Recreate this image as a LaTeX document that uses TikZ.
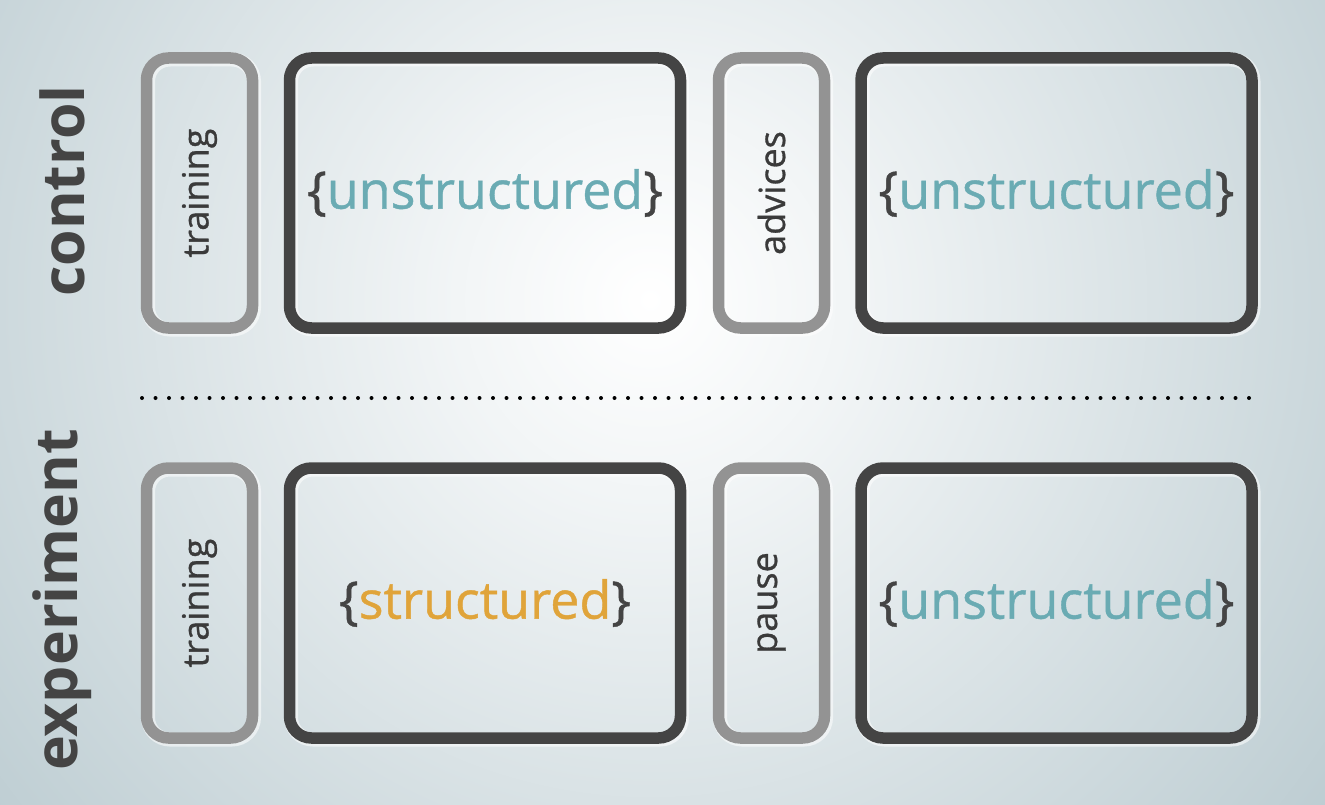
\documentclass[tikz,border=0pt]{standalone}
\usepackage{fontspec}
\setmainfont{Open Sans}
\newfontfamily\heavyish[FakeBold=0.8]{Open Sans}
\usetikzlibrary{shadings}
\definecolor{bgout}{HTML}{B4C6CC}
\definecolor{darkstroke}{HTML}{444444}
\definecolor{graystroke}{HTML}{939393}
\definecolor{teal}{HTML}{6AABB3}
\definecolor{amber}{HTML}{E0A43A}
\definecolor{txt}{HTML}{3A3A3A}
\pgfdeclareradialshading{bgshade}{\pgfpoint{0bp}{0bp}}{color(0bp)=(white); color(5bp)=(white!82!bgout); color(24bp)=(bgout); color(50bp)=(bgout!88!black)}
\tikzset{
  box/.style={rounded corners=22pt, line width=11.5pt, inner sep=0pt},
  bigbox/.style={box, draw=darkstroke, minimum width=391pt, minimum height=270pt},
  smallbox/.style={box, draw=graystroke, minimum width=106pt, minimum height=270pt},
  sidelabel/.style={font=\heavyish\fontsize{36}{40}\selectfont, text=txt, rotate=90},
  rowlabel/.style={font=\bfseries\fontsize{59}{64}\selectfont, text=darkstroke, rotate=90},
  cond/.style={font=\heavyish\fontsize{52}{58}\selectfont, text=darkstroke},
}
\begin{document}
\begin{tikzpicture}[x=1pt,y=-1pt]
\useasboundingbox (0,0) rectangle (1325,805);
\begin{scope}
\clip (0,0) rectangle (1325,805);
\shade[shading=bgshade] (650,300) circle (1000);
\end{scope}
% glow highlights
\foreach \cx/\cy/\w in {199.5/193/106, 485/193/391, 771.5/193/106, 1056.5/193/391, 199.5/603/106, 485/603/391, 771.5/603/106, 1056.5/603/391}{
  \draw[white, line width=14pt, opacity=0.55, rounded corners=22pt] (\cx-\w/2+1.5,\cy-135+1.5) rectangle (\cx+\w/2+1.5,\cy+135+1.5);
}
% row labels
\node[rowlabel] (lctrl) at (62,191) {control};
\node[rowlabel] (lexp) at (62,600) {experiment};
% control row
\node[smallbox] (ct) at (199.5,193) {};
\node[sidelabel] at (ct.center) {training};
\node[bigbox] (cu1) at (485,193) {};
\node[cond] at (cu1.center) {\{\textcolor{teal}{unstructured}\}};
\node[smallbox] (ca) at (771.5,193) {};
\node[sidelabel] at (ca.center) {advices};
\node[bigbox] (cu2) at (1056.5,193) {};
\node[cond] at (cu2.center) {\{\textcolor{teal}{unstructured}\}};
% separator
\coordinate (sepL) at (142,398);
\coordinate (sepR) at (1256,398);
\draw[line width=4pt, line cap=round, dash pattern=on 0pt off 13.5pt, black] (sepL) -- (sepR);
% experiment row
\node[smallbox] (et) at (199.5,603) {};
\node[sidelabel] at (et.center) {training};
\node[bigbox] (es) at (485,603) {};
\node[cond] at (es.center) {\{\textcolor{amber}{structured}\}};
\node[smallbox] (ep) at (771.5,603) {};
\node[sidelabel] at (ep.center) {pause};
\node[bigbox] (eu) at (1056.5,603) {};
\node[cond] at (eu.center) {\{\textcolor{teal}{unstructured}\}};
\end{tikzpicture}
\end{document}
